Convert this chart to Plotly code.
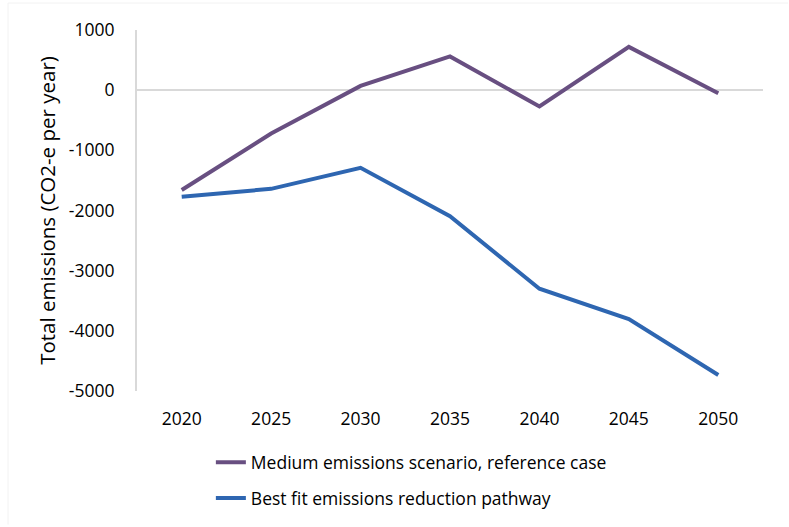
import plotly.graph_objects as go

years = ["2020", "2025", "2030", "2035", "2040", "2045", "2050"]
medium_reference = [-1660, -720, 70, 560, -270, 720, -50]
best_fit_pathway = [-1770, -1640, -1290, -2095, -3300, -3805, -4735]
y_ticks = [1000, 0, -1000, -2000, -3000, -4000, -5000]
y_tick_text = [str(v) for v in y_ticks]

PURPLE = "#684F81"
BLUE = "#2E66B1"
FONT = "'Open Sans', Lato, sans-serif"

fig = go.Figure()
fig.add_trace(go.Scatter(
    x=years, y=medium_reference, mode="lines",
    name="Medium emissions scenario, reference case",
    line=dict(color=PURPLE, width=4), legendgroup="a",
))
fig.add_trace(go.Scatter(
    x=years, y=best_fit_pathway, mode="lines",
    name="Best fit emissions reduction pathway",
    line=dict(color=BLUE, width=4), legendgroup="b",
))

fig.update_layout(
    width=789, height=527,
    margin=dict(l=137, r=26, t=30, b=135),
    paper_bgcolor="white", plot_bgcolor="white",
    font=dict(family=FONT, color="#000000", size=17.5),
    showlegend=True,
    legend=dict(
        x=0.118, y=-0.145, xanchor="left", yanchor="top",
        orientation="v", tracegroupgap=10,
        font=dict(size=17.5, family=FONT),
        bgcolor="rgba(0,0,0,0)",
    ),
    xaxis=dict(
        type="category", range=[-0.5, 6.5], showgrid=False, showline=False,
        zeroline=False, ticks="", ticklabelstandoff=15, tickfont=dict(size=17.5),
    ),
    yaxis=dict(
        range=[-5000, 1000], tickvals=y_ticks, ticktext=y_tick_text, showgrid=False,
        showline=True, linecolor="#D9D9D9", linewidth=2,
        zeroline=True, zerolinecolor="#D9D9D9", zerolinewidth=2,
        ticks="", ticklabelstandoff=17, tickfont=dict(size=17.5),
        title=dict(text="Total emissions (CO2-e per year)", font=dict(size=20.5), standoff=8),
    ),
    shapes=[
        dict(type="line", xref="paper", yref="paper", x0=-0.206, x1=1.04, y0=1.0 + 27/362, y1=1.0 + 27/362,
             line=dict(color="#F2F2F2", width=1)),
        dict(type="line", xref="paper", yref="paper", x0=-0.206, x1=-0.206, y0=1.0 + 27/362, y1=-0.37,
             line=dict(color="#F2F2F2", width=1)),
    ],
)

fig.write_html("out.html")
